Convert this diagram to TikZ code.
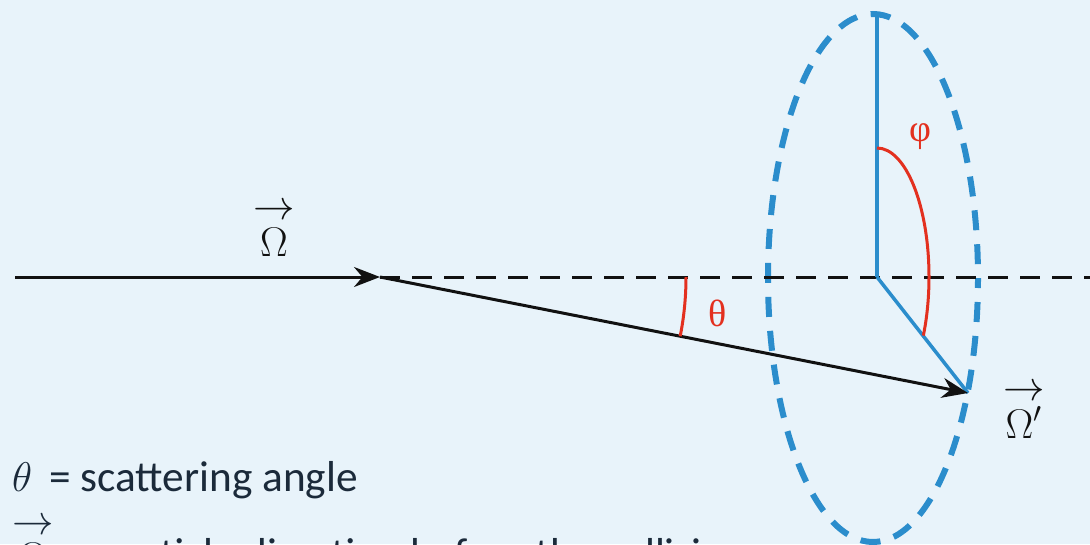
\documentclass[tikz,border=0pt]{standalone}
\usepackage{graphicx}
\usepackage{fontspec}
\setmainfont{Carlito}
\newfontfamily\grk{Liberation Serif}
\usetikzlibrary{arrows.meta,calc}
\newcommand{\BigMath}[1]{\scalebox{2}{\fontsize{20.74}{25}\selectfont $#1$}}
\newcommand{\VecOver}[1]{\mathop{#1}\limits^{\raisebox{0.12em}{$\rightarrow$}}}
\definecolor{bgc}{HTML}{E8F3FA}
\definecolor{bluec}{HTML}{2B8DCC}
\definecolor{redc}{HTML}{E3301F}
\definecolor{inkc}{HTML}{111111}
\definecolor{txtc}{HTML}{1B2A3A}
\tikzset{
  axis/.style={draw=inkc, line width=3pt},
  dashaxis/.style={draw=inkc, line width=3pt, dash pattern=on 20pt off 12pt},
  blueline/.style={draw=bluec, line width=3.5pt},
  cone/.style={draw=bluec, line width=6pt, dash pattern=on 20pt off 14pt},
  anglearc/.style={draw=redc, line width=3pt},
  tip/.style={-{Stealth[length=26pt,width=20pt]}},
  biglabel/.style={text=inkc, inner sep=0pt},
  redlabel/.style={font=\fontsize{38}{46}\selectfont\grk, text=redc, inner sep=0pt},
  legend/.style={font=\fontsize{43.3}{52}\selectfont, text=txtc, inner sep=0pt, anchor=base west}
}
\begin{document}
\begin{tikzpicture}[x=1pt,y=-1pt]
\useasboundingbox (0,0) rectangle (1090,544);
\clip (0,0) rectangle (1090,544);
\fill[bgc] (0,0) rectangle (1090,544);
% coordinates
\coordinate (start) at (15,277);
\coordinate (O) at (380,277);
\coordinate (E) at (1092,277);
\coordinate (tipP) at (968,393);
\coordinate (C) at (877,277);
\coordinate (topP) at (877,14);
\coordinate (EC) at (873,278);
% cone ellipse
\draw[cone, dash phase=10pt] (EC) ellipse [x radius=105, y radius=264];
% axis
\draw[dashaxis] (O) -- (E);
\draw[axis, tip] (start) -- (O);
% blue lines
\draw[blueline] (C) -- (topP);
\draw[blueline] (C) -- (tipP);
% scattered direction
\draw[axis, tip] (O) -- (tipP);
% phi arc
\draw[anglearc] ($(C)+(0,-129)$) arc [start angle=-90, end angle=27, x radius=52, y radius=129];
% theta arc
\draw[anglearc] ([xshift=306pt]O) arc [start angle=0, end angle=11.16, x radius=306, y radius=306];
% labels
\node[biglabel, anchor=base] (om) at (274,253) {\BigMath{\VecOver{\Omega}}};
\node[biglabel, anchor=base west] (omp) at (1003,438) {\BigMath{\VecOver{\Omega\smash{'}}}};
\node[redlabel] (th) at (718,313) {θ};
\node[redlabel] (ph) at (920,137) {φ};
% legend
\node[legend] (l1) at (12,491) {\BigMath{\theta}\ \,= scattering angle};
\node[legend] (l2) at (12,568) {\BigMath{\VecOver{\Omega}}\ \,= particle direction before the collision};
\end{tikzpicture}
\end{document}
